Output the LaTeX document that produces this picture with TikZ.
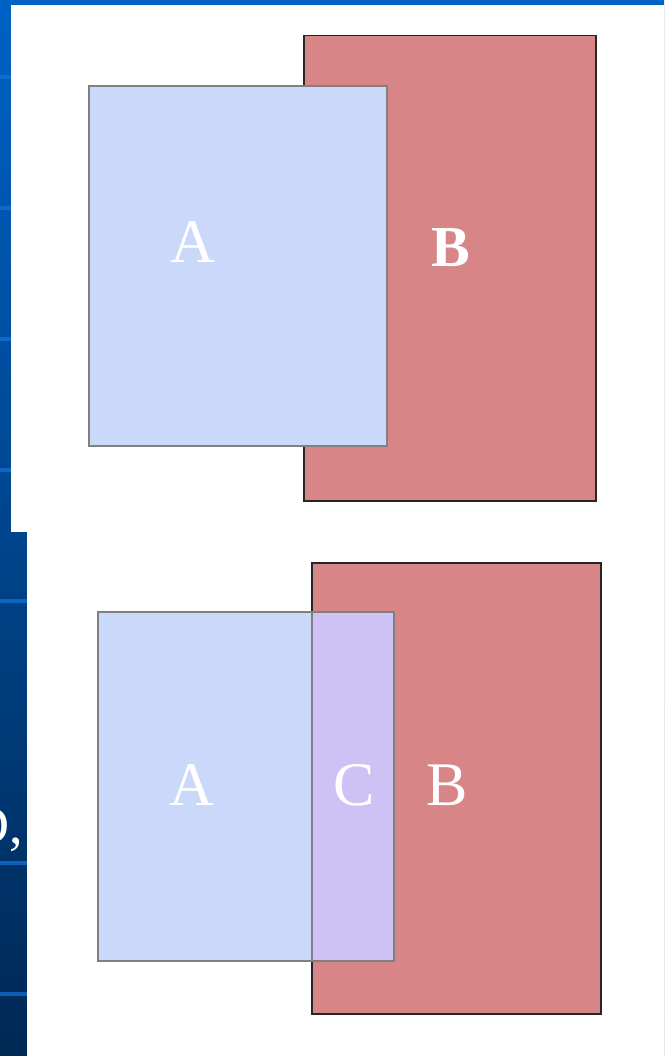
\documentclass[tikz,border=0pt]{standalone}
\usepackage{fontspec}
\setmainfont{Liberation Serif}
\definecolor{bgtop}{RGB}{0,98,198}
\definecolor{bgbot}{RGB}{0,40,84}
\definecolor{stripline}{RGB}{20,112,215}
\definecolor{rectB}{RGB}{216,133,136}
\definecolor{rectA}{RGB}{202,216,250}
\definecolor{rectC}{RGB}{206,194,245}
\definecolor{borderA}{RGB}{128,128,128}
\tikzset{
  x=1pt, y=-1pt,
  boxA/.style={fill=rectA, draw=borderA, line width=1.8pt},
  boxB/.style={fill=rectB, draw=black!85, line width=1.5pt},
  boxC/.style={fill=rectC, draw=borderA, line width=1.8pt},
  lbl/.style={text=white, inner sep=0pt, font=\fontsize{62}{62}\selectfont},
  lblb/.style={lbl, font=\fontsize{58}{58}\selectfont\bfseries},
  panel/.style={fill=white, draw=none}
}
\begin{document}
\begin{tikzpicture}
\useasboundingbox (0,0) rectangle (664,1056);
\clip (0,0) rectangle (664,1056);
% background
\shade[top color=bgtop, bottom color=bgbot] (-5,-5) rectangle (670,1060);
\foreach \yy in {77,208,339,470,601,863,994}
  \fill[stripline, opacity=0.75] (0,\yy-2) rectangle (30,\yy+2);
% partial text at left edge
\node[text=white, inner sep=0pt, anchor=south east, font=\fontsize{54}{54}\selectfont] (frag) at (23,852) {D,};
% panels
\fill[panel] (11,5) rectangle (680,532);
\fill[panel] (27,532) rectangle (680,1070);
% top diagram
\node[boxB, minimum width=292pt, minimum height=465pt, anchor=north west, inner sep=0pt] (B1) at (303,35) {};
\node[boxA, minimum width=298pt, minimum height=360pt, anchor=north west, inner sep=0pt] (A1) at (88,85) {};
\node[lbl] (tA1) at (193,242) {A};
\node[lblb] (tB1) at (451,248) {B};
% bottom diagram
\node[boxB, minimum width=289pt, minimum height=451pt, anchor=north west, inner sep=0pt] (B2) at (311,562) {};
\node[boxA, minimum width=214pt, minimum height=349pt, anchor=north west, inner sep=0pt] (A2) at (97,611) {};
\node[boxC, minimum width=82pt, minimum height=349pt, anchor=north west, inner sep=0pt] (C2) at (311,611) {};
\node[lbl] (tA2) at (192,785) {A};
\node[lbl] (tC2) at (354,785) {C};
\node[lbl] (tB2) at (447,785) {B};
\end{tikzpicture}
\end{document}
